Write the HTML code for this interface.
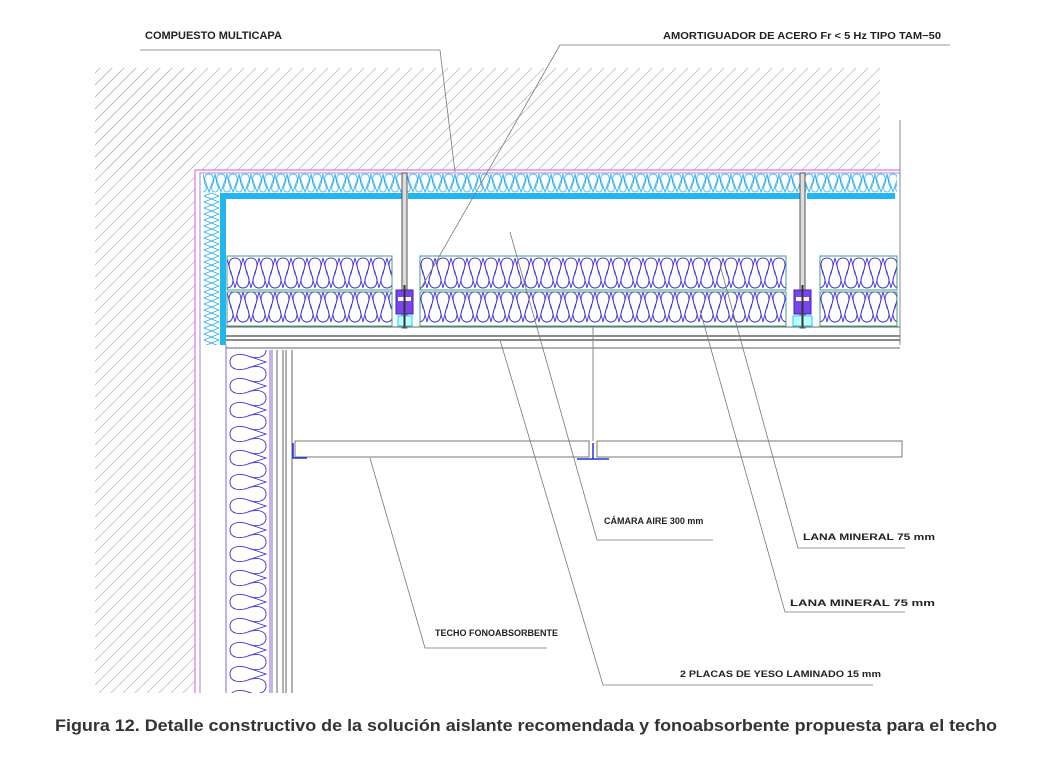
<!DOCTYPE html>
<html><head><meta charset="utf-8"><style>
html,body{margin:0;padding:0;background:#fff;width:1059px;height:769px;overflow:hidden}
svg{display:block}
</style></head><body>
<svg width="1059" height="769" viewBox="0 0 1059 769" xmlns="http://www.w3.org/2000/svg" font-family="Liberation Sans, sans-serif">
<defs>
<pattern id="hatch" width="12" height="12" patternUnits="userSpaceOnUse">
<path d="M0 12 L12 0 M-3 3 L3 -3 M9 15 L15 9" stroke="#b4b4b4" stroke-width="0.7"/>
</pattern>
<pattern id="wool" x="227" y="256" width="16" height="34" patternUnits="userSpaceOnUse">
<path d="M8 2 C1 2 1 10 4 16 L8 32 L12 16 C15 10 15 2 8 2 Z" fill="none" stroke="#4433dd" stroke-width="0.9"/>
<path d="M0 32 C-7 32 -7 22 -4 18 L0 2 L4 18 C7 22 7 32 0 32 Z M16 32 C9 32 9 22 12 18 L16 2 L20 18 C23 22 23 32 16 32 Z" fill="none" stroke="#4433dd" stroke-width="0.9"/>
</pattern>
<pattern id="woolv" x="226" y="350" width="44" height="24" patternUnits="userSpaceOnUse">
<path d="M4 12 C4 4 14 3 22 6 L40 12 L22 18 C14 21 4 20 4 12 Z" fill="none" stroke="#4433dd" stroke-width="0.9"/>
<path d="M40 0 C40 8 30 9 22 6 M40 24 C40 16 30 15 22 18" fill="none" stroke="#4433dd" stroke-width="0.9"/>
</pattern>
<pattern id="cyanw" x="203" y="172" width="12" height="21" patternUnits="userSpaceOnUse">
<path d="M6 2 C1 2 1 8 3 11 L6 20 L9 11 C11 8 11 2 6 2 Z" fill="none" stroke="#22aaee" stroke-width="0.8"/>
<path d="M0 20 C-4 20 -4 15 -2 12 L0 2 L2 12 C4 15 4 20 0 20 Z M12 20 C8 20 8 15 10 12 L12 2 L14 12 C16 15 16 20 12 20 Z" fill="none" stroke="#22aaee" stroke-width="0.8"/>
</pattern>
<pattern id="cyanv" x="203" y="172" width="17" height="12" patternUnits="userSpaceOnUse">
<path d="M1 0 L16 6 L1 12 M16 0 L1 6 L16 12" fill="none" stroke="#22aaee" stroke-width="0.8"/>
</pattern>
</defs>

<rect x="95" y="68" width="785" height="102" fill="url(#hatch)"/>
<rect x="95" y="68" width="100" height="625" fill="url(#hatch)"/>
<rect x="195" y="170" width="710" height="530" fill="#fff"/>
<line x1="900" y1="120" x2="900" y2="345" stroke="#888" stroke-width="1"/>

<path d="M195 693 L195 170 L900 170" fill="none" stroke="#dd55dd" stroke-width="1"/>
<path d="M200 693 L200 173 L900 173" fill="none" stroke="#8866dd" stroke-width="0.8"/>

<rect x="203" y="173" width="694" height="20" fill="url(#cyanw)"/>
<rect x="203" y="193" width="17" height="152" fill="url(#cyanv)"/>
<rect x="220" y="193" width="183" height="6" fill="#22b6ee"/>
<rect x="408" y="193" width="392" height="6" fill="#22b6ee"/>
<rect x="807" y="193" width="88" height="6" fill="#22b6ee"/>
<rect x="220" y="193" width="6" height="152" fill="#22b6ee"/>

<g stroke="#555" stroke-width="1" fill="#ddd">
<rect x="402" y="173" width="5" height="155"/>
<rect x="800" y="173" width="5" height="155"/>
</g>
<g>
<rect x="396" y="290" width="17" height="24" fill="#7744ee" stroke="#4422aa"/>
<rect x="398" y="297" width="13" height="4" fill="#fff"/>
<rect x="398" y="316" width="14" height="10" fill="#bff" stroke="#22ccee"/>
<rect x="794" y="290" width="17" height="24" fill="#7744ee" stroke="#4422aa"/>
<rect x="796" y="297" width="13" height="4" fill="#fff"/>
<rect x="793" y="316" width="19" height="10" fill="#bff" stroke="#22ccee"/>
<line x1="404.5" y1="285" x2="404.5" y2="328" stroke="#333" stroke-width="2"/>
<line x1="802.5" y1="285" x2="802.5" y2="328" stroke="#333" stroke-width="2"/>
</g>

<g stroke="#449988" stroke-width="1" fill="url(#wool)">
<rect x="227" y="256" width="165" height="34"/>
<rect x="227" y="292" width="165" height="34"/>
<rect x="420" y="256" width="366" height="34"/>
<rect x="420" y="292" width="366" height="34"/>
<rect x="820" y="256" width="77" height="34"/>
<rect x="820" y="292" width="77" height="34"/>
</g>

<g stroke="#666" fill="none">
<line x1="226" y1="327" x2="900" y2="327" stroke-width="1"/>
<line x1="226" y1="336" x2="900" y2="336" stroke-width="1.5"/>
<line x1="226" y1="340" x2="900" y2="340" stroke-width="1.5"/>
<line x1="226" y1="348" x2="900" y2="348" stroke-width="1"/>
</g>

<rect x="226" y="350" width="44" height="343" fill="url(#woolv)"/>
<g stroke="#8866dd" stroke-width="1"><line x1="226" y1="345" x2="226" y2="693"/><line x1="270" y1="350" x2="270" y2="693"/><line x1="272" y1="350" x2="272" y2="693"/></g>
<g stroke="#666" stroke-width="1" fill="none">
<line x1="277" y1="350" x2="277" y2="693"/><line x1="283" y1="350" x2="283" y2="693"/>
<line x1="286" y1="350" x2="286" y2="693"/><line x1="292" y1="350" x2="292" y2="693"/>
</g>

<g stroke="#777" stroke-width="1" fill="#fff">
<rect x="295" y="441" width="294" height="16"/>
<rect x="597" y="441" width="305" height="16"/>
</g>
<line x1="593" y1="327" x2="593" y2="441" stroke="#888"/>
<path d="M293 443 L293 458 L307 458" fill="none" stroke="#2233dd" stroke-width="1.5"/>
<path d="M593 443 L593 459 M577 459 L609 459" fill="none" stroke="#2233dd" stroke-width="1.5"/>

<g stroke="#777" stroke-width="0.8" fill="none">
<path d="M140 50 L440 50 L455 172"/>
<path d="M950 45 L560 45 L420 290"/>
<path d="M713 540 L597 540 L510 232"/>
<path d="M905 548 L798 548 L720 265"/>
<path d="M905 612 L785 612 L700 310"/>
<path d="M547 648 L425 648 L370 458"/>
<path d="M873 685 L603 685 L500 340"/>
</g>

<g font-weight="bold" fill="#222">
<text x="145" y="39" font-size="11">COMPUESTO MULTICAPA</text>
<text x="663" y="39" font-size="10" textLength="278" lengthAdjust="spacingAndGlyphs">AMORTIGUADOR DE ACERO Fr &lt; 5 Hz TIPO TAM−50</text>
<text x="604" y="524" font-size="9">CÁMARA AIRE 300 mm</text>
<text x="803" y="540" font-size="9.5" textLength="132" lengthAdjust="spacingAndGlyphs">LANA MINERAL 75 mm</text>
<text x="790" y="606" font-size="9.5" textLength="145" lengthAdjust="spacingAndGlyphs">LANA MINERAL 75 mm</text>
<text x="435" y="636" font-size="9.5" textLength="123" lengthAdjust="spacingAndGlyphs">TECHO FONOABSORBENTE</text>
<text x="680" y="677" font-size="9.5" textLength="201" lengthAdjust="spacingAndGlyphs">2 PLACAS DE YESO LAMINADO 15 mm</text>
</g>

<text x="55" y="731" font-size="17" font-weight="bold" fill="#333" textLength="942" lengthAdjust="spacingAndGlyphs">Figura 12. Detalle constructivo de la solución aislante recomendada y fonoabsorbente propuesta para el techo</text>
</svg>
</body></html>
